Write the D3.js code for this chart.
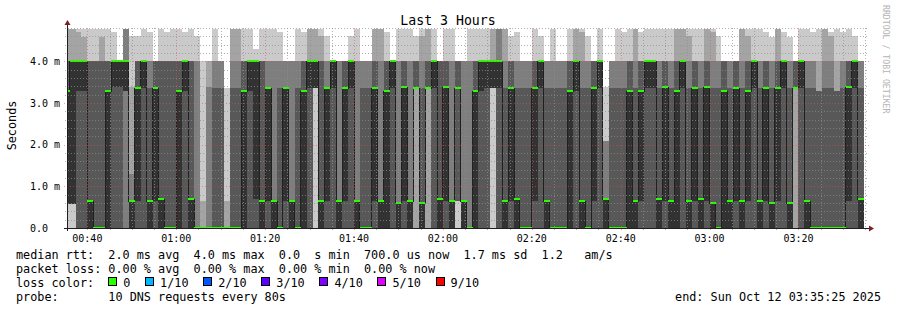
<!DOCTYPE html>
<html>
<head>
<meta charset="utf-8">
<script src="https://cdn.jsdelivr.net/npm/d3@7"></script>
<style>
  body { margin: 0; background: #fff; }
  text { font-family: "DejaVu Sans Mono", monospace; }
</style>
</head>
<body>
<script>
// smokeping "Last 3 Hours" — 10 DNS pings every 80s, values in ms
const startTime = new Date(Date.UTC(2025, 9, 12, 0, 35, 25));
const endTime = new Date(Date.UTC(2025, 9, 12, 3, 35, 25));
const firstStep = new Date(Date.UTC(2025, 9, 12, 0, 34, 40));
const stepSeconds = 80;

// median rtt per step (ms)
const medians = [
  3.29, 4.0, 4.0, 4.0, 0.65, 0, 0, 3.29, 4.0, 4.0,
  4.0, 0.65, 3.35, 4.0, 0.65, 3.35, 0.7, 0, 0, 3.29,
  4.0, 0.7, 0, 0, 0, 0, 0, 0, 0, 0,
  3.29, 4.0, 4.0, 0.65, 3.35, 0.65, 0, 3.35, 0.65, 0,
  3.29, 4.0, 4.0, 0.65, 3.35, 4.0, 0.65, 3.35, 4.0, 0.65,
  0, 0, 3.35, 0.65, 3.29, 4.0, 0.6, 3.38, 0.65, 3.35,
  0.6, 3.35, 4.0, 0.7, 3.38, 0.65, 3.35, 0.65, 0, 3.29,
  4.0, 4.0, 4.0, 4.0, 0.65, 3.35, 0.7, 0, 0, 3.35,
  4.0, 0.65, 0, 0, 0, 3.29, 4.0, 0.65, 0, 3.35,
  4.0, 0.7, 0, 0, 0, 3.29, 0.65, 3.29, 4.0, 4.0,
  0.7, 3.38, 0.65, 3.29, 4.0, 0.65, 3.35, 0.7, 3.38, 0.6,
  0, 3.29, 0.65, 3.35, 0.65, 3.29, 4.0, 0.65, 3.35, 0.6,
  3.35, 4.0, 0.6, 3.35, 4.0, 0.65, 0, 0, 0, 0,
  0, 0, 3.38, 4.0, 0.7
];

// the 10 sorted ping times per step (ms)
const pings = [
  [0, 0.58, 0.58, 0.58, 0.58, 3.29, 4.0, 4.0, 4.78, 4.78],
  [0, 0.58, 0.58, 0.58, 0.58, 4.0, 4.0, 4.0, 4.78, 4.78],
  [0, 0, 0, 0, 3.29, 4.0, 4.0, 4.0, 4.71, 4.78],
  [0, 0, 0, 0, 3.29, 4.0, 4.0, 4.0, 4.58, 4.78],
  [0, 0, 0, 0, 0, 0.65, 4.0, 4.0, 4.0, 4.78],
  [0, 0, 0, 0, 0, 0, 4.0, 4.0, 4.0, 4.78],
  [0, 0, 0, 0, 0, 0, 4.0, 4.0, 4.58, 4.78],
  [0, 0, 0, 0, 0, 3.29, 4.0, 4.0, 4.0, 4.78],
  [0, 0, 0, 0, 3.38, 4.0, 4.0, 4.0, 4.0, 4.71],
  [0, 0, 0, 0, 3.38, 4.0, 4.0, 4.0, 4.0, 4.0],
  [0, 0, 0, 3.29, 3.29, 4.0, 4.0, 4.78, 4.78, 4.78],
  [0, 0, 0, 0, 0, 0.65, 0.65, 1.3, 3.38, 4.62],
  [0, 0, 0, 0, 0.65, 3.35, 4.0, 4.0, 4.0, 4.62],
  [0, 0, 0, 0, 3.35, 4.0, 4.0, 4.0, 4.0, 4.78],
  [0, 0, 0, 0, 0, 0.65, 3.35, 4.0, 4.0, 4.71],
  [0, 0, 0, 0, 0.65, 3.35, 4.0, 4.0, 4.0, 4.0],
  [0, 0, 0, 0, 0, 0.7, 4.0, 4.0, 4.0, 4.78],
  [0, 0, 0, 0, 0, 0, 4.0, 4.0, 4.0, 4.71],
  [0, 0, 0, 0, 0, 0, 4.0, 4.0, 4.0, 4.78],
  [0, 0, 0, 0, 0, 3.29, 4.0, 4.0, 4.0, 4.78],
  [0, 0, 0, 0, 3.29, 4.0, 4.0, 4.0, 4.0, 4.71],
  [0, 0, 0, 0, 0, 0.7, 4.0, 4.0, 4.0, 4.78],
  [0, 0, 0, 0, 0, 0, 0, 4.0, 4.0, 4.62],
  [0, 0, 0, 0, 0, 0, 0, 0, 0.65, 4.0],
  [0, 0, 0, 0, 0, 0, 0, 3.38, 4.0, 4.0],
  [0, 0, 0, 0, 0, 0, 3.35, 4.0, 4.0, 4.78],
  [0, 0, 0, 0, 0, 0, 3.35, 4.0, 4.0, 4.0],
  [0, 0, 0, 0, 0, 0, 0, 0, 0.65, 3.35],
  [0, 0, 0, 0, 0, 0, 3.35, 4.0, 4.78, 4.78],
  [0, 0, 0, 0, 0, 0, 3.35, 4.0, 4.78, 4.78],
  [0, 0, 0, 0, 0, 3.29, 4.0, 4.0, 4.0, 4.78],
  [0, 0, 0, 0, 3.29, 4.0, 4.0, 4.0, 4.0, 4.78],
  [0, 0, 0, 0, 0.7, 4.0, 4.0, 4.0, 4.0, 4.29],
  [0, 0, 0, 0, 0, 0.65, 4.0, 4.0, 4.0, 4.78],
  [0, 0, 0, 0, 0.65, 3.35, 3.35, 4.0, 4.0, 4.78],
  [0, 0, 0, 0, 0, 0.65, 0.65, 4.0, 4.0, 4.78],
  [0, 0, 0, 0, 0, 0, 3.35, 4.0, 4.0, 4.71],
  [0, 0, 0, 0, 0.65, 3.35, 3.35, 4.0, 4.0, 4.0],
  [0, 0, 0, 0, 0, 0.65, 0.65, 4.0, 4.0, 4.0],
  [0, 0, 0, 0, 0, 0, 3.35, 4.0, 4.0, 4.78],
  [0, 0, 0, 0, 0, 3.29, 4.0, 4.0, 4.0, 4.71],
  [0, 0, 0, 0, 3.35, 4.0, 4.0, 4.0, 4.78, 4.78],
  [0, 3.35, 3.35, 3.35, 3.35, 4.0, 4.0, 4.0, 4.78, 4.78],
  [0, 0, 0, 0, 0, 0.65, 4.0, 4.0, 4.62, 4.78],
  [0, 0, 0, 0, 0.65, 3.35, 3.35, 4.0, 4.0, 4.62],
  [0, 0, 0, 0, 3.35, 4.0, 4.0, 4.0, 4.0, 4.0],
  [0, 0, 0, 0, 0, 0.65, 0.65, 4.0, 4.0, 4.0],
  [0, 0, 0, 0, 0.65, 3.35, 4.0, 4.0, 4.0, 4.0],
  [0, 0, 0, 0, 3.35, 4.0, 4.0, 4.0, 4.0, 4.62],
  [0, 0, 0, 0, 0, 0.65, 0.65, 4.0, 4.0, 4.78],
  [0, 0, 0, 0, 0, 0, 3.35, 4.0, 4.0, 4.0],
  [0, 0, 0, 0, 0, 0, 3.35, 4.0, 4.0, 4.0],
  [0, 0, 0, 0, 0.65, 3.35, 4.0, 4.0, 4.78, 4.78],
  [0, 0, 0, 0, 0, 0.65, 0.65, 4.0, 4.78, 4.78],
  [0, 0, 0, 0, 0, 3.29, 4.0, 4.0, 4.0, 4.71],
  [0, 0, 0, 0, 3.35, 4.0, 4.0, 4.0, 4.0, 4.0],
  [0, 0, 0, 0, 0, 0.6, 0.6, 4.0, 4.0, 4.78],
  [0, 0, 0, 0, 0.65, 3.38, 4.0, 4.0, 4.0, 4.78],
  [0, 0, 0, 0, 0, 0.65, 0.65, 4.0, 4.0, 4.78],
  [0, 0, 3.35, 3.35, 3.35, 3.35, 4.0, 4.0, 4.0, 4.62],
  [0, 0, 0, 0, 0, 0.6, 3.35, 4.0, 4.62, 4.78],
  [0, 0, 3.35, 3.35, 3.35, 3.35, 4.0, 4.0, 4.78, 4.78],
  [0, 0, 0, 0, 3.35, 4.0, 4.0, 4.0, 4.0, 4.78],
  [0, 0, 0, 0, 0, 0.7, 4.0, 4.0, 4.0, 4.0],
  [0, 0, 0, 0, 0.65, 3.38, 4.0, 4.0, 4.0, 4.78],
  [0, 0, 0, 0, 0, 0.65, 0.65, 4.0, 4.0, 4.78],
  [0, 0.65, 0.65, 0.65, 3.35, 3.35, 4.0, 4.0, 4.0, 4.0],
  [0, 0, 0, 0, 0, 0.65, 0.65, 4.0, 4.0, 4.0],
  [0, 0, 0, 0, 0, 0, 0, 4.0, 4.0, 4.78],
  [0, 0, 0, 0, 0, 3.29, 4.0, 4.0, 4.0, 4.78],
  [0, 0, 0, 0, 3.29, 4.0, 4.0, 4.0, 4.0, 4.78],
  [0, 0, 0, 0, 3.35, 4.0, 4.0, 4.0, 4.0, 4.78],
  [0, 3.35, 3.35, 3.35, 3.35, 4.0, 4.0, 4.0, 4.78, 4.78],
  [0, 0, 0, 0, 3.35, 4.0, 4.0, 4.78, 4.78, 4.78],
  [0, 0, 0, 0, 0, 0.65, 3.35, 4.0, 4.78, 4.78],
  [0, 0, 0, 0, 0.65, 3.35, 4.0, 4.0, 4.0, 4.62],
  [0, 0, 0, 0, 0, 0.7, 3.35, 4.0, 4.0, 4.71],
  [0, 0, 0, 0, 0, 0, 3.35, 4.0, 4.0, 4.0],
  [0, 0, 0, 0, 0, 0, 3.35, 4.0, 4.0, 4.0],
  [0, 0, 0, 0, 0.65, 3.35, 4.0, 4.0, 4.0, 4.78],
  [0, 0, 0, 0, 3.35, 4.0, 4.0, 4.0, 4.0, 4.62],
  [0, 0, 0, 0, 0, 0.65, 3.35, 4.0, 4.0, 4.0],
  [0, 0, 0, 0, 0, 0, 3.35, 4.0, 4.0, 4.78],
  [0, 0, 0, 0, 0, 0, 3.35, 4.0, 4.0, 4.0],
  [0, 0, 0, 0, 0, 0, 3.35, 4.0, 4.0, 4.0],
  [0, 0, 0, 0, 0, 3.29, 4.0, 4.0, 4.0, 4.78],
  [0, 0, 0, 0, 3.29, 4.0, 4.0, 4.0, 4.78, 4.78],
  [0, 0, 0, 0, 0, 0.65, 3.35, 4.0, 4.71, 4.78],
  [0, 0, 0, 0, 0, 0, 3.35, 4.0, 4.0, 4.62],
  [0, 0, 0, 0, 0.65, 3.35, 4.0, 4.0, 4.0, 4.0],
  [0, 0, 0, 0, 3.35, 4.0, 4.0, 4.0, 4.0, 4.78],
  [0, 0, 0, 0, 0, 0.7, 0.7, 2.1, 2.1, 3.38],
  [0, 0, 0, 0, 0, 0, 3.35, 4.0, 4.0, 4.0],
  [0, 0, 0, 0, 0, 0, 3.35, 4.0, 4.0, 4.78],
  [0, 0, 0, 0, 0, 0, 3.35, 4.0, 4.0, 4.71],
  [0, 0, 0, 0, 0, 3.29, 4.0, 4.0, 4.0, 4.78],
  [0, 0, 0, 0, 0, 0.65, 3.35, 4.0, 4.78, 4.78],
  [0, 0, 0, 0, 0.65, 3.29, 4.0, 4.0, 4.0, 4.71],
  [0, 0, 0, 0, 3.35, 4.0, 4.0, 4.0, 4.0, 4.78],
  [0, 0, 0, 0, 3.35, 4.0, 4.0, 4.0, 4.0, 4.78],
  [0, 0, 0, 0, 0, 0.7, 3.35, 4.0, 4.0, 4.78],
  [0, 0, 0, 0, 0.65, 3.38, 4.0, 4.0, 4.0, 4.78],
  [0, 0, 0, 0, 0, 0.65, 3.35, 4.0, 4.0, 4.78],
  [0, 0, 0, 0, 0, 3.29, 4.0, 4.0, 4.78, 4.78],
  [0, 0, 0, 0, 3.35, 4.0, 4.0, 4.0, 4.78, 4.78],
  [0, 0, 0, 0, 0, 0.65, 3.35, 4.0, 4.62, 4.78],
  [0, 0, 0, 0, 0.65, 3.35, 4.0, 4.0, 4.0, 4.78],
  [0, 0, 0, 0, 0, 0.7, 3.35, 4.0, 4.0, 4.78],
  [0, 0, 0, 0, 0.65, 3.38, 4.0, 4.0, 4.78, 4.78],
  [0, 0, 0, 0, 0, 0.6, 3.35, 4.0, 4.71, 4.78],
  [0, 0, 0, 0, 0, 0, 3.35, 4.0, 4.0, 4.62],
  [0, 0, 0, 0, 0, 3.29, 4.0, 4.0, 4.0, 4.0],
  [0, 0, 0, 0, 0, 0.65, 3.35, 4.0, 4.0, 4.0],
  [0, 0, 0, 0, 0.65, 3.35, 4.0, 4.0, 4.0, 4.0],
  [0, 0, 0, 0, 0, 0.65, 3.35, 4.0, 4.78, 4.78],
  [0, 0, 0, 0, 0.65, 3.29, 4.0, 4.0, 4.62, 4.78],
  [0, 0, 0, 0, 3.35, 4.0, 4.0, 4.0, 4.0, 4.78],
  [0, 0, 0, 0, 0, 0.65, 3.35, 4.0, 4.0, 4.78],
  [0, 0, 0, 0, 0.65, 3.35, 4.0, 4.0, 4.0, 4.71],
  [0, 0, 0, 0, 0, 0.6, 3.35, 4.0, 4.0, 4.58],
  [0, 0, 0, 0, 0.65, 3.35, 4.0, 4.0, 4.78, 4.78],
  [0, 0, 0, 0, 3.35, 4.0, 4.0, 4.0, 4.0, 4.71],
  [0, 0, 0, 0, 0, 0.6, 3.35, 4.0, 4.0, 4.58],
  [0, 0, 3.35, 3.35, 3.35, 3.35, 4.0, 4.0, 4.0, 4.0],
  [0, 0, 0, 0, 3.35, 4.0, 4.0, 4.0, 4.0, 4.78],
  [0, 0, 0, 0, 0, 0.65, 3.35, 4.0, 4.0, 4.78],
  [0, 0, 0, 0, 0, 0, 3.35, 4.0, 4.0, 4.71],
  [0, 0, 0, 0, 0, 0, 3.29, 3.29, 4.0, 4.78],
  [0, 0, 0, 0, 0, 0, 3.35, 4.0, 4.78, 4.78],
  [0, 0, 0, 0, 0, 0, 3.35, 4.0, 4.62, 4.71],
  [0, 0, 0, 0, 0, 0, 3.29, 3.29, 4.0, 4.78],
  [0, 0, 0, 0, 0, 0, 3.35, 4.0, 4.0, 4.71],
  [0, 0, 0, 0, 0.65, 3.38, 4.0, 4.0, 4.0, 4.78],
  [0, 0, 0, 0, 3.35, 4.0, 4.0, 4.0, 4.0, 4.62],
  [0, 0, 0, 0, 0, 0.7, 3.35, 4.0, 4.0, 4.0]
];

const yTicks = [0, 1, 2, 3, 4];
const yTickLabels = ["0.0", "1.0 m", "2.0 m", "3.0 m", "4.0 m"];
const lossLabels = ["0", "1/10", "2/10", "3/10", "4/10", "5/10", "9/10"];
const lossColors = ["#26ff00", "#00b8ff", "#0059ff", "#5e00ff", "#7e00ff", "#dd00ff", "#ff0000"];
const smokeColors = ["#cacaca", "#a4a4a4", "#7e7e7e", "#585858", "#323232"];
const legendLines = [
  "median rtt:  2.0 ms avg  4.0 ms max  0.0  s min  700.0 us now  1.7 ms sd  1.2   am/s",
  "packet loss: 0.00 % avg  0.00 % max  0.00 % min  0.00 % now",
  "loss color:",
  "probe:       10 DNS requests every 80s"
];

const width = 897, height = 310;
const plot = { left: 67, top: 28, right: 867, bottom: 228 };
const keepSpaces = s => s.replace(/ /g, "\u00a0");

const svg = d3.select("body").append("svg")
  .attr("width", width).attr("height", height)
  .style("display", "block");

svg.append("rect").attr("width", width).attr("height", height).attr("fill", "#fff");

const x = d3.scaleUtc().domain([startTime, endTime]).range([plot.left, plot.right]);
const y = d3.scaleLinear().domain([0, 4.8]).range([plot.bottom, plot.top]);

svg.append("clipPath").attr("id", "plotclip")
  .append("rect")
  .attr("x", plot.left).attr("y", plot.top)
  .attr("width", plot.right - plot.left).attr("height", plot.bottom - plot.top);

const steps = pings.map((p, i) => {
  const t0 = new Date(firstStep.getTime() + i * stepSeconds * 1000);
  const t1 = new Date(t0.getTime() + stepSeconds * 1000);
  return { t0, t1, p, median: medians[i] };
});

const chart = svg.append("g").attr("clip-path", "url(#plotclip)");

// smoke: outer pairs lightest, inner pairs darkest
for (let b = 0; b < 5; b++) {
  chart.append("g")
    .attr("shape-rendering", "crispEdges")
    .selectAll("rect")
    .data(steps.filter(d => d.p[9 - b] > d.p[b]))
    .enter()
    .append("rect")
    .attr("x", d => x(d.t0))
    .attr("width", d => x(d.t1) - x(d.t0))
    .attr("y", d => y(d.p[9 - b]))
    .attr("height", d => y(d.p[b]) - y(d.p[9 - b]))
    .attr("fill", smokeColors[b]);
}

// median line
const linePts = steps.map(d => [d.t0, d.median]);
linePts.push([steps[steps.length - 1].t1, steps[steps.length - 1].median]);
chart.append("path")
  .datum(linePts)
  .attr("d", d3.line().x(d => x(d[0])).y(d => Math.round(y(d[1])) + 0.5).curve(d3.curveStepAfter))
  .attr("fill", "none")
  .attr("stroke", "#202020")
  .attr("stroke-width", 1)
  .attr("shape-rendering", "crispEdges");

// loss-coloured median markers
const swidth = 4.8 / 200;
chart.append("g")
  .attr("shape-rendering", "crispEdges")
  .selectAll("rect")
  .data(steps)
  .enter()
  .append("rect")
  .attr("x", d => x(d.t0))
  .attr("width", d => x(d.t1) - x(d.t0))
  .attr("y", d => y(d.median + swidth))
  .attr("height", d => y(d.median - swidth) - y(d.median + swidth))
  .attr("fill", lossColors[0]);

// grid on top of the data
const grid = svg.append("g").attr("shape-rendering", "crispEdges");
const minorY = d3.range(1, 25).map(i => i * 0.2).filter(v => Math.abs(v - Math.round(v)) > 1e-6);
grid.selectAll(".hminor")
  .data(minorY)
  .enter()
  .append("line")
  .attr("x1", plot.left - 2).attr("x2", plot.right + 2)
  .attr("y1", d => Math.round(y(d)) + 0.5).attr("y2", d => Math.round(y(d)) + 0.5)
  .attr("stroke", "rgba(143,143,143,0.7)")
  .attr("stroke-dasharray", "1,2");

const minorX = x.ticks(d3.utcMinute.every(5)).filter(t => t.getUTCMinutes() % 20 !== 0);
grid.selectAll(".vminor")
  .data(minorX)
  .enter()
  .append("line")
  .attr("y1", plot.top).attr("y2", plot.bottom + 2)
  .attr("x1", d => Math.round(x(d)) + 0.5).attr("x2", d => Math.round(x(d)) + 0.5)
  .attr("stroke", "rgba(143,143,143,0.7)")
  .attr("stroke-dasharray", "1,2");

const majorX = x.ticks(d3.utcMinute.every(20));
grid.selectAll(".vmajor")
  .data(majorX)
  .enter()
  .append("line")
  .attr("y1", plot.top).attr("y2", plot.bottom + 3)
  .attr("x1", d => Math.round(x(d)) + 0.5).attr("x2", d => Math.round(x(d)) + 0.5)
  .attr("stroke", "rgba(222,79,79,0.55)")
  .attr("stroke-dasharray", "1,2");

grid.selectAll(".hmajor")
  .data(yTicks.slice(1))
  .enter()
  .append("line")
  .attr("x1", plot.left - 3).attr("x2", plot.right + 2)
  .attr("y1", d => Math.round(y(d)) + 0.5).attr("y2", d => Math.round(y(d)) + 0.5)
  .attr("stroke", "rgba(222,79,79,0.55)")
  .attr("stroke-dasharray", "1,2");

// axes with arrows
const axis = svg.append("g").attr("shape-rendering", "crispEdges");
axis.append("line")
  .attr("x1", plot.left - 3).attr("x2", plot.right + 3)
  .attr("y1", plot.bottom + 0.5).attr("y2", plot.bottom + 0.5)
  .attr("stroke", "#1f1f1f");
axis.append("line")
  .attr("x1", plot.left + 0.5).attr("x2", plot.left + 0.5)
  .attr("y1", plot.bottom + 3).attr("y2", plot.top - 4)
  .attr("stroke", "#1f1f1f");
svg.append("path")
  .attr("d", `M${plot.right + 2},${plot.bottom - 2.5} L${plot.right + 7},${plot.bottom + 0.5} L${plot.right + 2},${plot.bottom + 3.5} Z`)
  .attr("fill", "#801f1f");
svg.append("path")
  .attr("d", `M${plot.left - 2.5},${plot.top - 3} L${plot.left + 0.5},${plot.top - 8} L${plot.left + 3.5},${plot.top - 3} Z`)
  .attr("fill", "#801f1f");

// tick labels
svg.append("g").selectAll("text")
  .data(yTicks)
  .enter()
  .append("text")
  .attr("x", 30)
  .attr("y", d => y(d) + 3.8)
  .attr("font-size", "10px")
  .attr("fill", "#000")
  .text((d, i) => keepSpaces(yTickLabels[i]));

const fmt = d3.utcFormat("%H:%M");
svg.append("g").selectAll("text")
  .data(majorX)
  .enter()
  .append("text")
  .attr("x", d => x(d))
  .attr("y", 241.5)
  .attr("text-anchor", "middle")
  .attr("font-size", "10px")
  .text(d => fmt(d));

// titles
svg.append("text")
  .attr("x", 448).attr("y", 24.5)
  .attr("text-anchor", "middle")
  .attr("font-size", "13.2px")
  .text("Last 3 Hours");

svg.append("text")
  .attr("transform", "translate(15.5,125.5) rotate(-90)")
  .attr("text-anchor", "middle")
  .attr("font-size", "11.8px")
  .text("Seconds");

svg.append("text")
  .attr("transform", "translate(883,5) rotate(90)")
  .attr("font-size", "8.2px")
  .attr("fill", "#b4b4b4")
  .text(keepSpaces("RRDTOOL / TOBI OETIKER"));

// legend
const cw = 7.1;
const legend = svg.append("g").attr("font-size", "11.8px");
legend.selectAll("text.line")
  .data(legendLines)
  .enter()
  .append("text")
  .attr("class", "line")
  .attr("x", 16)
  .attr("y", (d, i) => 258.5 + i * 14)
  .text(d => keepSpaces(d));

let bx = 16 + 13 * cw;
lossLabels.forEach((lab, i) => {
  legend.append("rect")
    .attr("x", Math.round(bx) + 0.5).attr("y", 277.5)
    .attr("width", 8).attr("height", 8)
    .attr("fill", lossColors[i])
    .attr("stroke", "#000")
    .attr("shape-rendering", "crispEdges");
  legend.append("text")
    .attr("x", bx + 15).attr("y", 286.5)
    .text(lab);
  bx = bx + 15 + lab.length * cw + 2 * cw + 0.5;
});

legend.append("text")
  .attr("x", 881).attr("y", 300.5)
  .attr("text-anchor", "end")
  .text(keepSpaces("end: Sun Oct 12 03:35:25 2025"));
</script>
</body>
</html>
